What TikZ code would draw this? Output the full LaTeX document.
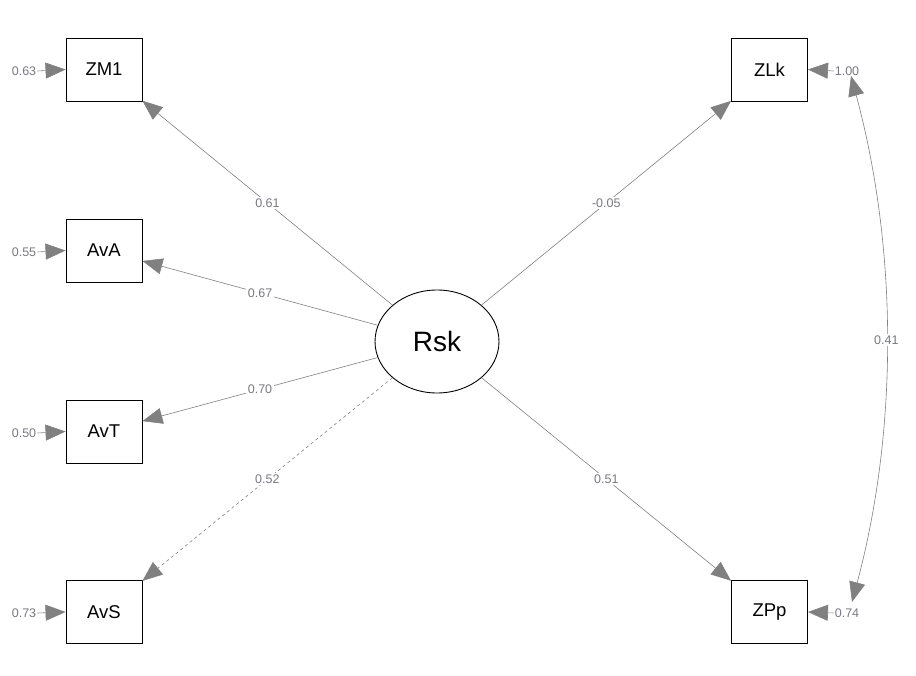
\documentclass[tikz,border=0pt]{standalone}
\usepackage{fontspec}
\setmainfont{Liberation Sans}
\usetikzlibrary{arrows.meta,shapes.geometric}
\definecolor{edgegray}{RGB}{128,128,128}
\definecolor{labgray}{RGB}{120,120,130}
\tikzset{
  x=1pt,y=-1pt,
  manifest/.style={draw=black,line width=0.9pt,minimum width=76pt,minimum height=63pt,inner sep=0pt,font=\fontsize{18.5}{18.5}\selectfont},
  latent/.style={ellipse,draw=black,line width=0.9pt,minimum width=124pt,minimum height=103pt,inner sep=0pt,font=\fontsize{28}{28}\selectfont},
  tip/.tip={Triangle[length=20pt,width=16pt]},
  edge/.style={draw=edgegray,line width=0.6pt,-tip},
  elab/.style={fill=white,inner sep=1.5pt,text=labgray,font=\fontsize{12.5}{12.5}\selectfont},
  reslab/.style={inner sep=1pt,text=labgray,font=\fontsize{12.5}{12.5}\selectfont},
}
\begin{document}
\begin{tikzpicture}
\useasboundingbox (0,0) rectangle (916,676);
\node[manifest] (ZM1) at (104,69.5) {ZM1};
\node[manifest] (AvA) at (104,250.5) {AvA};
\node[manifest] (AvT) at (104,431.5) {AvT};
\node[manifest] (AvS) at (104,612) {AvS};
\node[manifest] (ZLk) at (769.5,69.5) {ZLk};
\node[manifest] (ZPp) at (769.5,612) {ZPp};
\node[latent] (Rsk) at (437,341.5) {Rsk};

\draw[edge] (Rsk) -- node[elab,pos=0.5]{0.61} (ZM1);
\draw[edge] (Rsk) -- node[elab,pos=0.5]{0.67} (AvA);
\draw[edge] (Rsk) -- node[elab,pos=0.5]{0.70} (AvT);
\draw[edge,dashed] (Rsk) -- node[elab,pos=0.5]{0.52} (AvS);
\draw[edge] (Rsk) -- node[elab,pos=0.5]{-0.05} (ZLk);
\draw[edge] (Rsk) -- node[elab,pos=0.5]{0.51} (ZPp);

% residuals
\node[reslab] (rZM1) at (24,71) {0.63};
\node[reslab] (rAvA) at (24,252) {0.55};
\node[reslab] (rAvT) at (24,433) {0.50};
\node[reslab] (rAvS) at (24,613) {0.73};
\node[reslab] (rZLk) at (847,71) {1.00};
\node[reslab] (rZPp) at (847,613) {0.74};
\draw[edge] (rZM1.east) -- (ZM1.west);
\draw[edge] (rAvA.east) -- (AvA.west);
\draw[edge] (rAvT.east) -- (AvT.west);
\draw[edge] (rAvS.east) -- (AvS.west);
\draw[edge] (rZLk.west) -- (ZLk.east);
\draw[edge] (rZPp.west) -- (ZPp.east);

% covariance
\coordinate (cTop) at (851,76);
\coordinate (cBot) at (852,602);
\draw[draw=edgegray,line width=0.6pt,{tip}-{tip}] (cTop) .. controls (898,250) and (898,430) .. node[elab,pos=0.5]{0.41} (cBot);
\end{tikzpicture}
\end{document}
